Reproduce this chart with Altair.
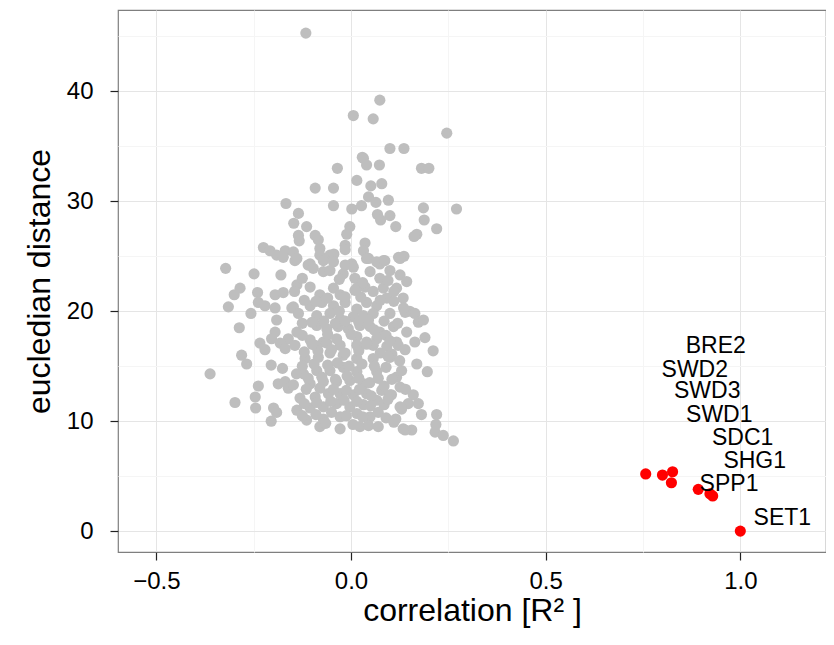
import altair as alt
import pandas as pd

# grey points: correlation (R^2) and eucledian distance
grey_x = [
    -0.116,
    0.074, 0.006, 0.057, 0.246, 0.100, 0.136, 0.029,
    -0.035, -0.092, -0.045, -0.045, -0.167, -0.135, -0.147, -0.114, -0.135, -0.133,
    -0.092, -0.084, -0.225, -0.208, -0.191, -0.169, -0.148, -0.174, -0.144, -0.105,
    -0.080, -0.080, -0.054,
    0.032, 0.040, 0.073, 0.181, 0.200, 0.015, 0.051, 0.079, 0.045, 0.064, 0.096,
    0.002, 0.027, 0.186, 0.271, 0.068, 0.100, 0.076, 0.188, 0.115, 0.220, -0.003,
    -0.011, 0.169, 0.162, 0.036, -0.015, -0.015, 0.032, -0.044, 0.045, 0.083, 0.122,
    0.136, 0.002, 0.074,
    -0.322, -0.249, -0.180, -0.285, -0.300, -0.240, -0.195, -0.174, -0.238, -0.221,
    -0.195, -0.315, -0.257, -0.152, -0.191, -0.195, -0.287, -0.161, -0.204, -0.234,
    -0.182, -0.221, -0.169, -0.281,
    0.151, 0.164, 0.173, 0.186, 0.164, 0.190, 0.211,
    -0.268, -0.362, -0.205, -0.176, -0.238, -0.187, -0.246, -0.298, -0.245, -0.199,
    -0.191, -0.205, -0.169, -0.161,
    0.169, 0.196, 0.160, 0.173, 0.181, 0.220, 0.218, 0.216, 0.237, 0.263, 0.156,
    0.147, 0.139, 0.104, 0.130,
    -0.139, -0.110, -0.071, -0.045, -0.015, 0.006, 0.040, 0.066, 0.087, 0.126,
    -0.139, -0.097, -0.071, -0.054, -0.020, 0.010, 0.049, 0.074, 0.100, 0.126, 0.143,
    -0.105, -0.080, -0.045, -0.028, 0.015, 0.036, 0.057, 0.083, 0.117,
    -0.148, -0.105, -0.075, -0.045, -0.015, 0.015, 0.040, 0.066, 0.092, 0.134,
    -0.088, -0.054, -0.028, 0.006, 0.032, 0.057, 0.100, 0.139,
    -0.139, -0.088, -0.062, -0.033, -0.007, 0.023, 0.049, 0.074, 0.109, 0.143,
    -0.105, -0.071, -0.037, 0.015, 0.040, 0.066, 0.117,
    -0.144, -0.092, -0.062, -0.028, 0.015, 0.057, 0.092, 0.121,
    -0.118, -0.084, -0.054, -0.020, 0.015, 0.057, 0.100, 0.139,
    -0.122, -0.088, -0.054, -0.020, 0.015, 0.066, 0.117,
    -0.148, -0.105, -0.071, -0.037, -0.003, 0.032, 0.079, 0.126,
    -0.131, -0.092, -0.058, -0.028, 0.006, 0.040, 0.066, 0.100, 0.126,
    -0.139, -0.105, -0.071, -0.037, -0.003, 0.032, 0.070,
    -0.114, -0.071, -0.028, 0.015, 0.049,
    -0.080, -0.028, 0.023, 0.070, 0.134,
    # dense core
    -0.125, -0.095, -0.060, -0.035, -0.005, 0.028, 0.060, 0.090,
    -0.110, -0.075, -0.040, -0.010, 0.020, 0.048,
    -0.115, -0.080, -0.045, -0.012, 0.022, 0.052, 0.085,
    -0.120, -0.088, -0.052, -0.018, 0.015, 0.050, 0.085,
    -0.125, -0.090, -0.050, -0.012, 0.030, 0.090,
    -0.120, -0.085, -0.050, -0.015, 0.020, 0.075, 0.105,
    -0.125, -0.100, -0.070, -0.040, -0.015, 0.020, 0.045, 0.085, 0.120,
    -0.120, -0.090, -0.060, -0.015, 0.025, 0.075, 0.110,
    -0.125, -0.030, 0.030, 0.095,
    -0.125, -0.060, 0.000, 0.090,
    0.105, 0.130, 0.095, 0.115, 0.100, 0.125, 0.110, 0.135, 0.070, 0.040,
    -0.100, -0.140, -0.135, -0.145, 0.060, -0.030, 0.010, 0.095, 0.140,
    -0.065, 0.005, 0.045, 0.110,
]
grey_y = [
    45.3,
    39.2, 37.8, 37.5, 36.2, 34.8, 34.8, 34.0,
    33.0, 31.2, 31.2, 29.6, 29.8, 28.9, 28.0, 27.7, 26.9, 26.4,
    26.9, 26.5, 25.8, 25.5, 25.1, 25.5, 25.4, 24.9, 24.6, 24.3,
    25.7, 25.1, 25.1,
    33.9, 33.3, 33.3, 33.0, 33.0, 31.9, 31.4, 31.6, 30.4, 29.9, 30.1,
    29.3, 29.6, 29.4, 29.3, 28.8, 28.7, 28.3, 28.3, 27.7, 27.5, 27.7,
    27.0, 27.0, 26.8, 26.2, 26.0, 25.6, 25.5, 25.2, 24.8, 24.6, 24.9,
    25.0, 24.3, 24.3,
    23.9, 23.4, 23.3, 22.1, 21.5, 21.7, 21.5, 21.7, 20.8, 20.5,
    20.3, 20.4, 19.8, 20.3, 19.2, 18.1, 18.5, 17.5, 17.5, 17.1,
    17.1, 16.5, 16.6, 16.0,
    20.0, 19.8, 19.0, 19.2, 17.2, 17.6, 16.4,
    15.2, 14.3, 15.1, 14.8, 13.2, 13.4, 12.2, 11.7, 11.2, 11.2,
    10.8, 10.0, 13.6, 13.0,
    15.2, 14.5, 12.4, 11.6, 10.6, 10.6, 9.7, 9.0, 8.7, 8.2, 9.2,
    11.6, 9.2, 12.4, 11.1,
    24.8, 24.2, 24.6, 24.5, 24.2, 24.0, 24.8, 24.5, 24.6, 24.8,
    22.4, 23.9, 23.6, 23.7, 23.4, 23.0, 23.6, 23.0, 23.7, 23.3, 22.7,
    22.2, 21.5, 22.1, 21.5, 22.1, 22.2, 21.8, 22.1, 22.1,
    20.4, 20.5, 20.8, 20.5, 20.8, 20.2, 20.8, 20.5, 21.2, 21.2,
    19.6, 19.8, 19.3, 19.5, 19.6, 19.8, 19.8, 19.9,
    18.1, 18.7, 18.4, 18.6, 18.4, 18.7, 18.6, 18.1, 18.6, 18.1,
    17.4, 17.2, 17.5, 17.7, 17.2, 17.5, 17.2,
    16.9, 16.9, 17.1, 16.9, 16.9, 16.9, 16.8, 16.9,
    15.7, 15.8, 16.2, 16.0, 15.7, 15.7, 15.8, 16.5,
    14.3, 14.6, 14.6, 14.9, 14.5, 14.5, 14.0,
    13.3, 13.4, 13.6, 13.6, 13.7, 13.4, 12.8, 13.1,
    12.1, 12.2, 12.5, 12.5, 12.4, 12.5, 11.9, 12.4, 11.3,
    11.0, 11.2, 11.3, 11.6, 11.3, 11.5, 10.8,
    10.1, 10.2, 10.4, 10.7, 10.4,
    9.5, 9.3, 9.5, 9.5, 9.3,
    # dense core
    15.0, 15.2, 15.1, 15.3, 15.0, 15.2, 15.0, 14.9,
    13.9, 14.0, 13.8, 14.1, 13.9, 13.5,
    12.9, 13.0, 12.9, 12.8, 12.9, 12.3, 13.2,
    11.6, 11.7, 11.8, 11.9, 11.8, 11.4, 11.5,
    10.5, 10.6, 10.8, 10.5, 10.4, 10.3,
    16.3, 16.4, 16.5, 16.2, 16.4, 16.2, 16.1,
    18.9, 19.0, 19.1, 18.9, 19.1, 19.0, 19.2, 19.1, 18.9,
    21.0, 20.9, 21.2, 21.3, 21.3, 21.0, 20.9,
    23.0, 22.9, 22.6, 22.8,
    17.8, 17.9, 17.9, 17.8,
    13.8, 14.6, 12.0, 10.2, 17.3, 15.5, 21.8, 20.3, 13.9, 17.0,
    17.0, 14.3, 19.8, 21.8, 18.3, 20.0, 21.9, 15.9, 12.9,
    9.8, 9.7, 9.6, 9.9,
]

# highlighted genes (red points)
red_x = [0.757, 0.800, 0.826, 0.823, 0.892, 0.922, 0.929, 1.000]
red_y = [5.2, 5.1, 5.4, 4.4, 3.8, 3.4, 3.2, 0.0]

# gene labels and their text positions
label_text = ["BRE2", "SWD2", "SWD3", "SWD1", "SDC1", "SHG1", "SPP1", "SET1"]
label_x = [0.937, 0.883, 0.915, 0.946, 1.006, 1.037, 0.971, 1.108]
label_y = [16.8, 14.7, 12.7, 10.6, 8.5, 6.4, 4.3, 1.15]

x_ticks = [-0.5, -0.25, 0.0, 0.25, 0.5, 0.75, 1.0]
y_ticks = [0, 5, 10, 15, 20, 25, 30, 35, 40, 45]

grey_df = pd.DataFrame({"r": grey_x, "d": grey_y})
red_df = pd.DataFrame({"r": red_x, "d": red_y})
lab_df = pd.DataFrame({"r": label_x, "d": label_y, "gene": label_text})

FONT = "Liberation Sans"

x_scale = alt.Scale(domain=[-0.5985, 1.2201], nice=False, zero=False)
y_scale = alt.Scale(domain=[-1.9, 47.4], nice=False, zero=False)

x_axis = alt.Axis(
    values=x_ticks,
    format=".1f",
    labelExpr="datum.value % 0.5 === 0 ? datum.label : ''",
    gridColor={"condition": {"test": "datum.value % 0.5 === 0", "value": "#E5E5E5"}, "value": "#F5F5F5"},
    tickColor={"condition": {"test": "datum.value % 0.5 === 0", "value": "#222222"}, "value": "transparent"},
    domain=False,
    tickSize=8,
    tickWidth=1.2,
    labelPadding=9,
    labelFontSize=24,
    labelColor="black",
    labelFont=FONT,
    title="correlation [R² ]",
    titleFontSize=32,
    titleFontWeight="normal",
    titleFont=FONT,
    titleColor="black",
    titlePadding=2,
)
y_axis = alt.Axis(
    values=y_ticks,
    format="d",
    labelExpr="datum.value % 10 === 0 ? datum.label : ''",
    gridColor={"condition": {"test": "datum.value % 10 === 0", "value": "#E5E5E5"}, "value": "#F5F5F5"},
    tickColor={"condition": {"test": "datum.value % 10 === 0", "value": "#222222"}, "value": "transparent"},
    domain=False,
    tickSize=8,
    tickWidth=1.2,
    labelPadding=17,
    labelFontSize=24,
    labelColor="black",
    labelFont=FONT,
    title="eucledian distance",
    titleFontSize=32,
    titleFontWeight="normal",
    titleFont=FONT,
    titleColor="black",
    titlePadding=10,
)

grey = alt.Chart(grey_df).mark_circle(size=125, opacity=1, color="#BEBEBE").encode(
    x=alt.X("r:Q", scale=x_scale, axis=x_axis),
    y=alt.Y("d:Q", scale=y_scale, axis=y_axis),
)
red = alt.Chart(red_df).mark_circle(size=125, opacity=1, color="#FF0000").encode(
    x=alt.X("r:Q", scale=x_scale),
    y=alt.Y("d:Q", scale=y_scale),
)
labels = alt.Chart(lab_df).mark_text(
    fontSize=23, font=FONT, color="black", align="center", baseline="middle"
).encode(
    x=alt.X("r:Q", scale=x_scale),
    y=alt.Y("d:Q", scale=y_scale),
    text="gene:N",
)

chart = (
    alt.layer(grey, red, labels)
    .properties(
        width=708,
        height=542,
        autosize=alt.AutoSizeParams(type="none"),
        padding={"left": 110, "top": 2, "right": 0, "bottom": 85},
    )
    .configure_view(stroke="#7F7F7F", strokeWidth=1.2)
)

chart.save("out.html", embed_options={"renderer": "svg", "actions": False})
